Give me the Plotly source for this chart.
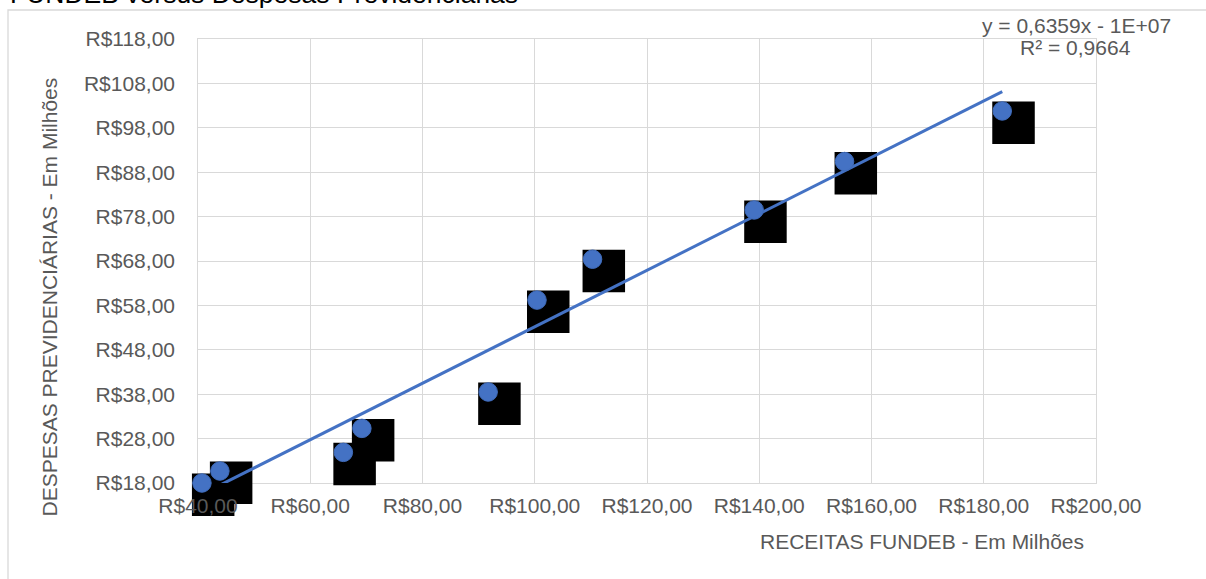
import numpy as np
import plotly.graph_objects as go

# Receitas FUNDEB x Despesas Previdenciárias (valores em milhões de R$)
receitas_fundeb = [40.7, 43.9, 65.9, 69.2, 91.7, 100.4, 110.3, 139.1, 155.2, 183.3]
despesas_prev = [18.0, 20.7, 24.9, 30.3, 38.5, 59.2, 68.4, 79.5, 90.4, 101.8]

# Linha de tendência linear (coeficiente angular exibido na equação)
trend_slope = 0.6359
trend_label = "y = 0,6359x - 1E+07"
r2_label = "R² = 0,9664"

x_range = [40, 200]
y_range = [18, 118]
x_step = 20
y_step = 10

# Figure geometry (pixels): plot area box inside the figure
FIG_W, FIG_H = 1206, 579
P_L, P_R, P_T, P_B = 198, 1096, 39, 483
PLOT_W = P_R - P_L
PLOT_H = P_B - P_T

FONT = "Liberation Sans, Arial, sans-serif"
GRAY_TXT = "#595959"
GRID = "#d9d9d9"
BLUE = "#4472C4"

# data units per pixel
UX = (x_range[1] - x_range[0]) / PLOT_W
UY = (y_range[1] - y_range[0]) / PLOT_H


def px_x(px):
    return px / FIG_W


def px_y(py):
    return 1 - py / FIG_H


dom_x = [px_x(P_L), px_x(P_R)]
dom_y = [px_y(P_B), px_y(P_T)]
# full-figure axes with the same scale (for the unclipped squares)
full_x = [x_range[0] - P_L * UX, x_range[1] + (FIG_W - P_R) * UX]
full_y = [y_range[0] - (FIG_H - P_B) * UY, y_range[1] + P_T * UY]

x = np.array(receitas_fundeb)
y = np.array(despesas_prev)

# intercept from least squares with the fixed slope
intercept = y.mean() - trend_slope * x.mean()
trend_x = np.array([x.min(), x.max()])
trend_y = trend_slope * trend_x + intercept

fig = go.Figure()

# grid subplot (x/y): only gridlines and frame
fig.add_trace(go.Scatter(x=[], y=[], xaxis="x", yaxis="y", showlegend=False))

# black square (42 px) behind each marker, offset down-right
SQ = 42.5
fig.add_trace(go.Scatter(
    x=x + (SQ / 2 - 10) * UX, y=y - (SQ / 2 - 9.5) * UY,
    xaxis="x2", yaxis="y2", mode="markers",
    marker=dict(symbol="square", size=SQ, color="black", line=dict(width=0)),
    cliponaxis=False, hoverinfo="skip", showlegend=False,
))

fig.add_trace(go.Scatter(
    x=trend_x, y=trend_y, xaxis="x3", yaxis="y3", mode="lines",
    line=dict(color=BLUE, width=3),
    hoverinfo="skip", showlegend=False,
))

fig.add_trace(go.Scatter(
    x=x, y=y, xaxis="x3", yaxis="y3", mode="markers",
    marker=dict(symbol="circle", size=18.5, color=BLUE,
                line=dict(width=1, color="#3f6bba")),
    cliponaxis=False, showlegend=False,
))

grid_axis = dict(showgrid=True, gridcolor=GRID, gridwidth=1.3,
                 showline=True, linecolor=GRID, linewidth=1.3, mirror=True,
                 zeroline=False, ticks="", showticklabels=False, automargin=False)
label_axis = dict(showgrid=False, showline=False, zeroline=False, ticks="",
                  tickprefix="R$", tickformat=".2f", automargin=False,
                  tickfont=dict(family=FONT, size=21, color=GRAY_TXT))
hidden_axis = dict(domain=[0, 1], visible=False, automargin=False, fixedrange=True)

fig.update_layout(
    xaxis=dict(domain=dom_x, range=x_range, tick0=x_range[0], dtick=x_step,
               anchor="y", **grid_axis),
    yaxis=dict(domain=dom_y, range=y_range, tick0=y_range[0], dtick=y_step,
               anchor="x", **grid_axis),
    xaxis2=dict(range=full_x, anchor="y2", **hidden_axis),
    yaxis2=dict(range=full_y, anchor="x2", **hidden_axis),
    xaxis3=dict(domain=dom_x, range=x_range, tick0=x_range[0], dtick=x_step,
                anchor="y3", ticklabelstandoff=8, **label_axis),
    yaxis3=dict(domain=dom_y, range=y_range, tick0=y_range[0], dtick=y_step,
                anchor="x3", ticklabelstandoff=22, **label_axis),
)

annotations = [
    dict(text="FUNDEB versus Despesas Previdenciárias",
         x=px_x(8), y=px_y(11), xanchor="left", yanchor="bottom",
         font=dict(family=FONT, size=26.5, color="#000000")),
    dict(text=trend_label, x=px_x(1076), y=px_y(26), xanchor="center", yanchor="middle",
         font=dict(family=FONT, size=21, color=GRAY_TXT)),
    dict(text=r2_label, x=px_x(1075), y=px_y(48), xanchor="center", yanchor="middle",
         font=dict(family=FONT, size=21, color=GRAY_TXT)),
    dict(text="RECEITAS FUNDEB - Em Milhões",
         x=px_x(922), y=px_y(541), xanchor="center", yanchor="middle",
         font=dict(family=FONT, size=21, color=GRAY_TXT)),
    dict(text="DESPESAS PREVIDENCIÁRIAS - Em Milhões", textangle=-90,
         x=px_x(48.5), y=px_y(297), xanchor="center", yanchor="middle",
         font=dict(family=FONT, size=21, color=GRAY_TXT)),
]
for a in annotations:
    a.update(xref="paper", yref="paper", showarrow=False)

border = dict(type="rect", xref="paper", yref="paper",
              x0=px_x(8), x1=px_x(1220), y0=px_y(10), y1=px_y(600),
              line=dict(color=GRID, width=1.3), layer="below")

fig.update_layout(
    width=FIG_W, height=FIG_H,
    margin=dict(l=0, r=0, t=0, b=0, pad=0, autoexpand=False),
    paper_bgcolor="white", plot_bgcolor="rgba(0,0,0,0)",
    separators=",.",
    font=dict(family=FONT, color=GRAY_TXT),
    annotations=annotations,
    shapes=[border],
)

fig.write_html("out.html")
